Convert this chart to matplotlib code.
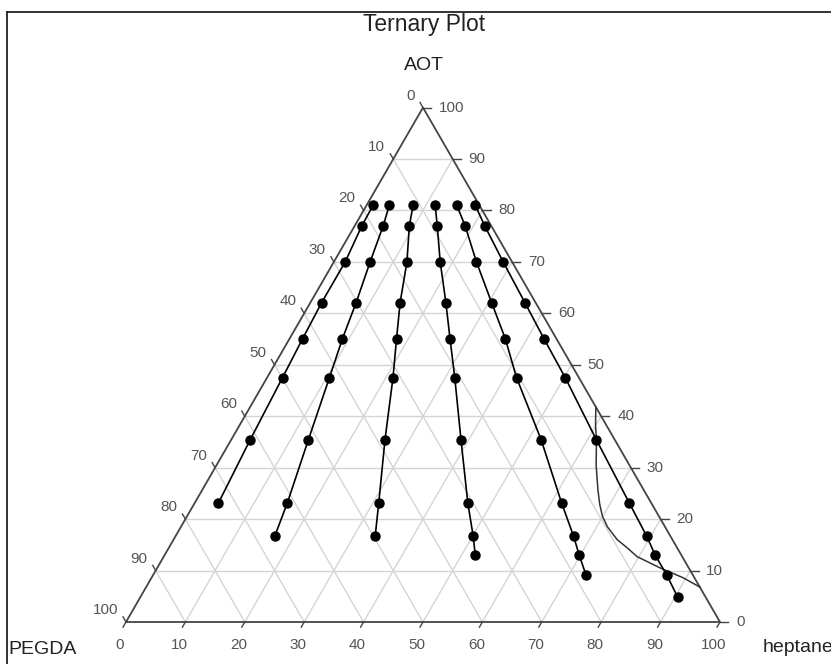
import numpy as np
import matplotlib
matplotlib.use("Agg")
import matplotlib.pyplot as plt
from matplotlib.lines import Line2D
from matplotlib.transforms import offset_copy

plt.rcParams['font.family'] = ['Liberation Sans', 'DejaVu Sans']

# AOT level of each row of measured points (shared by all series)
aot = [81.1, 77.0, 70.0, 62.1, 55.1, 47.5, 35.4, 23.1, 16.7, 13.0, 9.1, 4.9]

# heptane content of each series, read row by row from the top
hep_05 = [1.1, 1.2, 1.9, 1.9, 2.2, 2.6, 3.2, 4.0]
hep_20 = [3.8, 4.8, 6.1, 7.7, 8.9, 10.5, 13.0, 15.6, 16.7]
hep_40 = [7.8, 9.2, 12.3, 15.1, 18.0, 21.2, 25.9, 31.0, 33.6]
hep_60 = [11.5, 13.9, 17.9, 22.8, 27.0, 31.6, 38.7, 46.0, 50.1, 52.3]
hep_80 = [15.1, 18.6, 24.0, 30.5, 36.3, 42.0, 52.2, 61.8, 67.0, 69.8, 72.9]
hep_95 = [18.2, 21.9, 28.5, 36.1, 42.8, 50.2, 61.5, 73.2, 79.3, 82.6, 86.5, 90.4]
series = [hep_05, hep_20, hep_40, hep_60, hep_80, hep_95]

# phase boundary curve (heptane, AOT)
bound_hep = [58.2, 59.9, 61.5, 63.9, 66.6, 68.3, 69.9, 71.8, 74.7, 77.2, 79.7, 84.7, 89.5, 93.2]
bound_aot = [41.8, 38.3, 35.4, 30.5, 25.7, 22.9, 20.6, 18.5, 16.0, 14.4, 12.7, 10.5, 8.6, 6.8]

ticks = [0, 10, 20, 30, 40, 50, 60, 70, 80, 90, 100]

S3 = np.sqrt(3) / 2


def tern(h, a):
    # heptane along the base, AOT towards the top vertex
    h = np.asarray(h, dtype=float)
    a = np.asarray(a, dtype=float)
    return h + a / 2.0, a * S3


fig = plt.figure(figsize=(8.31, 6.64), dpi=100)
ax = fig.add_axes([0, 0, 1, 1])
ax.set_xlim(-21.21, 118.69)
ax.set_ylim(-7.07, 104.71)
ax.axis('off')

# frame of the original figure
fig.add_artist(Line2D([7 / 831, 7 / 831], [0, 1 - 12 / 664], transform=fig.transFigure,
                      color='#222222', lw=1.3))
fig.add_artist(Line2D([7 / 831, 1], [1 - 12 / 664, 1 - 12 / 664], transform=fig.transFigure,
                      color='#222222', lw=1.3))

grid_c = '#d4d4d4'
for k in ticks[1:-1]:
    x, y = tern([0, 100 - k], [k, k])
    ax.plot(x, y, color=grid_c, lw=1.0, zorder=1)
    x, y = tern([k, k], [0, 100 - k])
    ax.plot(x, y, color=grid_c, lw=1.0, zorder=1)
    x, y = tern([100 - k, 0], [0, 100 - k])
    ax.plot(x, y, color=grid_c, lw=1.0, zorder=1)

# triangle
x, y = tern([0, 100, 0, 0], [0, 0, 100, 0])
ax.plot(x, y, color='#444444', lw=1.3, zorder=2)

lab_c = '#555555'
tl = 1.0
for v in ticks:
    # heptane, bottom edge
    x, y = tern(v, 0)
    ax.plot([x, x - 0.5 * tl], [y, y - S3 * tl], color='#444444', lw=1.0)
    ax.text(x, y, str(v), fontsize=11, color=lab_c, ha='center', va='center',
            transform=offset_copy(ax.transData, fig=fig, x=-6, y=-23, units='dots'))
    # AOT, right edge
    x, y = tern(100 - v, v)
    ax.plot([x, x + 1.4], [y, y], color='#444444', lw=1.0)
    ax.text(x, y, str(v), fontsize=11, color=lab_c, ha='left', va='center',
            transform=offset_copy(ax.transData, fig=fig, x=16, y=0, units='dots'))
    # PEGDA, left edge
    x, y = tern(0, 100 - v)
    ax.plot([x, x - 0.5 * tl], [y, y + S3 * tl], color='#444444', lw=1.0)
    ax.text(x, y, str(v), fontsize=11, color=lab_c, ha='right', va='center',
            transform=offset_copy(ax.transData, fig=fig, x=-8, y=12, units='dots'))

for hep in series:
    x, y = tern(hep, aot[:len(hep)])
    ax.plot(x, y, color='black', lw=1.2, marker='o', markersize=6.5, zorder=4)

x, y = tern(bound_hep, bound_aot)
ax.plot(x, y, color='#333333', lw=1.1, zorder=3)

fig.text(424 / 831, 1 - 25 / 664, 'Ternary Plot', fontsize=16.5, color='#222222',
         ha='center', va='center')
fig.text(424 / 831, 1 - 66 / 664, 'AOT', fontsize=14, color='#222222',
         ha='center', va='center')
fig.text(8 / 831, 1 - 650 / 664, 'PEGDA', fontsize=14, color='#222222',
         ha='left', va='center')
fig.text(763 / 831, 1 - 647 / 664, 'heptane', fontsize=14, color='#222222',
         ha='left', va='center')

fig.savefig('out.png', dpi=100)
